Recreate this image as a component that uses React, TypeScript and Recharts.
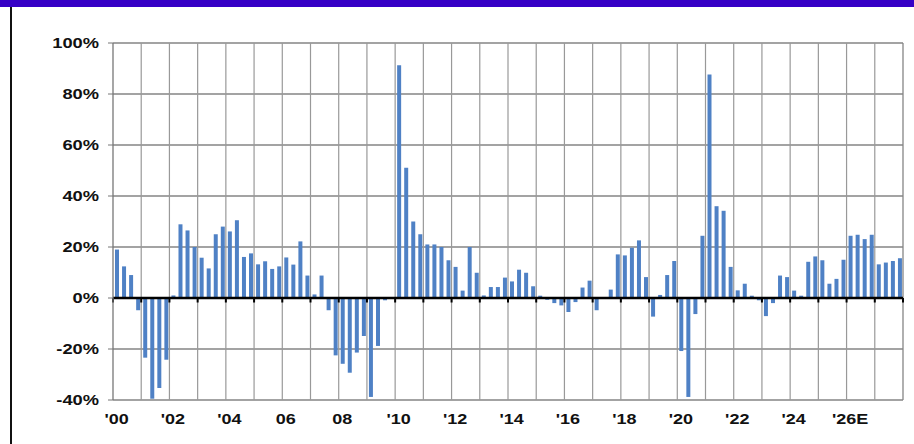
import { Bar, BarChart, CartesianGrid, ReferenceLine, XAxis, YAxis } from "recharts";

const years = Array.from({ length: 28 }, (_, i) => 2000 + i);
const quarters = [1, 2, 3, 4];

// quarterly y/y growth, %
const growth2000s = [
  19.0, 12.4, 9.0, -4.8,
  -23.4, -39.5, -35.3, -24.2,
  1.0, 28.9, 26.5, 20.0,
  15.8, 11.6, 25.0, 28.0,
  26.1, 30.5, 16.1, 17.5,
  13.2, 14.4, 11.4, 12.4,
  15.9, 13.1, 22.2, 8.8,
  1.4, 8.8, -4.8, -22.5,
  -25.8, -29.3, -21.4, -14.9,
  -38.8, -18.8, -0.9, 0,
];
const growth2010s = [
  91.3, 51.1, 30.0, 25.0,
  21.0, 21.0, 20.0, 14.8,
  12.2, 2.9, 20.0, 9.9,
  1.0, 4.3, 4.3, 8.0,
  6.5, 11.1, 9.9, 4.6,
  0.9, -0.7, -2.0, -2.9,
  -5.5, -1.6, 4.1, 6.8,
  -4.8, 0, 3.3, 17.1,
  16.7, 19.7, 22.6, 8.2,
  -7.3, 1.2, 9.0, 14.5,
];
const growth2020s = [
  -20.8, -38.8, -6.3, 24.4,
  87.6, 36.0, 34.2, 12.2,
  3.0, 5.6, 0.9, -0.9,
  -7.1, -2.0, 8.8, 8.2,
  2.9, 0.9, 14.2, 16.3,
  14.8, 5.6, 7.5, 15.0,
  24.4, 24.8, 23.1, 24.8,
  13.2, 13.9, 14.5, 15.6,
];

const labelYears = [2000, 2002, 2004, 2006, 2008, 2010, 2012, 2014, 2016, 2018, 2020, 2022, 2024, 2026];
const yearLabels = ["'00", "'02", "'04", "06", "08", "'10", "'12", "'14", "'16", "'18", "'20", "'22", "'24", "'26E"];
const yTicks = [-40, -20, 0, 20, 40, 60, 80, 100];

// each quarter sits in the middle of its quarter-year slot
const values = [...growth2000s, ...growth2010s, ...growth2020s];
const data = years.flatMap((y, yi) =>
  quarters.map((q, qi) => ({ t: y + (q - 0.5) / 4, v: values[yi * 4 + qi] }))
);

const tickPos = labelYears.map((y) => y + 0.125);
const labelFor = (t: number) => yearLabels[labelYears.indexOf(Math.round(t - 0.125))] ?? "";

const first = years[0];
const last = years[years.length - 1] + 1;
const tickYears = [...years, last];

const FONT = "'Liberation Sans', Arial, Helvetica, sans-serif";

function YTick({ x, y, payload }: any) {
  return (
    <text
      transform={`translate(${x},${y}) scale(1.22,1)`}
      textAnchor="end"
      dy="0.36em"
      fontSize={15}
      fontWeight="bold"
      fill="#111"
      fontFamily={FONT}
    >
      {payload.value}%
    </text>
  );
}

function XTick({ x, y, payload }: any) {
  return (
    <text
      transform={`translate(${x},${y}) scale(1.2,1)`}
      textAnchor="middle"
      dy={24}
      fontSize={15}
      fontWeight="bold"
      fill="#111"
      fontFamily={FONT}
    >
      {labelFor(payload.value)}
    </text>
  );
}

// zero axis with small year ticks hanging below it
function ZeroLine({ x1, y1, x2, y2 }: any) {
  const span = last - first;
  return (
    <g>
      <line x1={x1} y1={y1} x2={x2} y2={y2} stroke="#000" strokeWidth={2.6} />
      {tickYears.map((yr) => {
        const x = x1 + ((yr - first) / span) * (x2 - x1);
        return <line key={yr} x1={x} x2={x} y1={y1} y2={y1 + 4.5} stroke="#000" strokeWidth={2} />;
      })}
    </g>
  );
}

export default function App() {
  return (
    <div style={{ position: "absolute", left: 0, top: 0, width: 914, height: 444, background: "#fff" }}>
      <BarChart width={914} height={444} data={data} margin={{ top: 43, right: 11, bottom: 0, left: 0 }} barSize={4}>
        <CartesianGrid vertical={false} stroke="#858585" strokeWidth={1.3} />
        <XAxis dataKey="t" type="number" domain={[first, last]} height={0} hide />
        <XAxis
          xAxisId="lab"
          dataKey="t"
          type="number"
          domain={[first, last]}
          ticks={tickPos}
          interval={0}
          tick={<XTick />}
          tickLine={false}
          axisLine={false}
          tickSize={0}
          tickMargin={0}
          height={44}
        />
        <YAxis
          domain={[-40, 100]}
          ticks={yTicks}
          width={113}
          tick={<YTick />}
          tickSize={5}
          tickMargin={9}
          axisLine={{ stroke: "#777", strokeWidth: 1.3 }}
          tickLine={{ stroke: "#777" }}
        />
        <ReferenceLine x={2001} stroke="#999" strokeWidth={1.2} />
        <ReferenceLine x={2002} stroke="#999" strokeWidth={1.2} />
        <ReferenceLine x={2003} stroke="#999" strokeWidth={1.2} />
        <ReferenceLine x={2004} stroke="#999" strokeWidth={1.2} />
        <ReferenceLine x={2005} stroke="#999" strokeWidth={1.2} />
        <ReferenceLine x={2006} stroke="#999" strokeWidth={1.2} />
        <ReferenceLine x={2007} stroke="#999" strokeWidth={1.2} />
        <ReferenceLine x={2008} stroke="#999" strokeWidth={1.2} />
        <ReferenceLine x={2009} stroke="#999" strokeWidth={1.2} />
        <ReferenceLine x={2010} stroke="#999" strokeWidth={1.2} />
        <ReferenceLine x={2011} stroke="#999" strokeWidth={1.2} />
        <ReferenceLine x={2012} stroke="#999" strokeWidth={1.2} />
        <ReferenceLine x={2013} stroke="#999" strokeWidth={1.2} />
        <ReferenceLine x={2014} stroke="#999" strokeWidth={1.2} />
        <ReferenceLine x={2015} stroke="#999" strokeWidth={1.2} />
        <ReferenceLine x={2016} stroke="#999" strokeWidth={1.2} />
        <ReferenceLine x={2017} stroke="#999" strokeWidth={1.2} />
        <ReferenceLine x={2018} stroke="#999" strokeWidth={1.2} />
        <ReferenceLine x={2019} stroke="#999" strokeWidth={1.2} />
        <ReferenceLine x={2020} stroke="#999" strokeWidth={1.2} />
        <ReferenceLine x={2021} stroke="#999" strokeWidth={1.2} />
        <ReferenceLine x={2022} stroke="#999" strokeWidth={1.2} />
        <ReferenceLine x={2023} stroke="#999" strokeWidth={1.2} />
        <ReferenceLine x={2024} stroke="#999" strokeWidth={1.2} />
        <ReferenceLine x={2025} stroke="#999" strokeWidth={1.2} />
        <ReferenceLine x={2026} stroke="#999" strokeWidth={1.2} />
        <ReferenceLine x={2027} stroke="#999" strokeWidth={1.2} />
        <ReferenceLine x={2028} stroke="#858585" strokeWidth={1.3} />
        <Bar dataKey="v" fill="#4f81c5" isAnimationActive={false} />
        <ReferenceLine y={0} shape={ZeroLine} />
      </BarChart>
      <div style={{ position: "absolute", left: 0, top: 0, width: 914, height: 7, background: "#3600c6" }} />
      <div style={{ position: "absolute", left: 10, top: 7, width: 2, height: 437, background: "#111" }} />
    </div>
  );
}
